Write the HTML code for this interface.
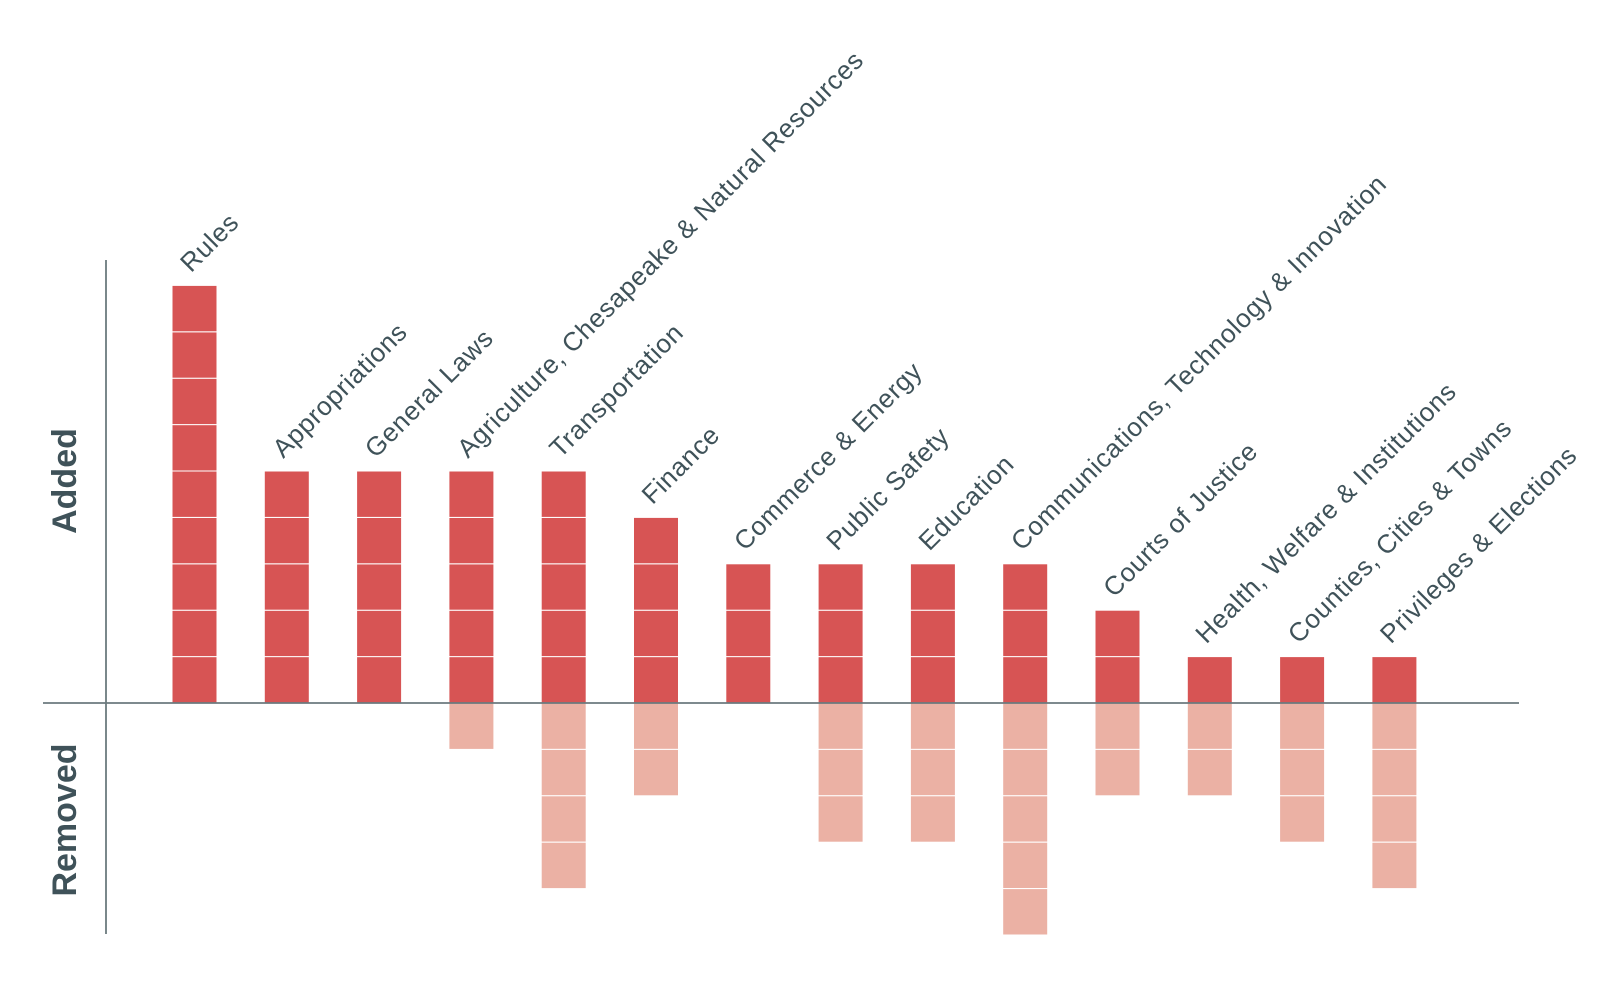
<!DOCTYPE html>
<html><head><style>body{margin:0;background:#fff}</style></head><body>
<svg width="1608" height="988" xmlns="http://www.w3.org/2000/svg" font-family="Liberation Sans, sans-serif">
<rect width="1608" height="988" fill="#fff"/>
<g id="bars"></g>
<line x1="106" y1="260" x2="106" y2="934" stroke="#6b7a7e" stroke-width="1.8"/>
<line x1="43" y1="703" x2="1519" y2="703" stroke="#6b7a7e" stroke-width="1.8"/>
<text transform="translate(76,481) rotate(-90)" text-anchor="middle" font-size="34" font-weight="bold" fill="#3f5259">Added</text>
<text transform="translate(76,820) rotate(-90)" text-anchor="middle" font-size="34" font-weight="bold" fill="#3f5259">Removed</text>
<g id="labels" font-size="26" letter-spacing="0.7" fill="#3f5259"></g>
</svg>
<script>
var d=[["Rules",9,0],["Appropriations",5,0],["General Laws",5,0],["Agriculture, Chesapeake & Natural Resources",5,1],["Transportation",5,4],["Finance",4,2],["Commerce & Energy",3,0],["Public Safety",3,3],["Education",3,3],["Communications, Technology & Innovation",3,5],["Courts of Justice",2,2],["Health, Welfare & Institutions",1,2],["Counties, Cities & Towns",1,3],["Privileges & Elections",1,4]];
var ns="http://www.w3.org/2000/svg",b=document.getElementById("bars"),l=document.getElementById("labels"),u=46.4,base=703;
d.forEach(function(r,i){var x=172+92.3*i;
for(var k=0;k<r[1];k++){var e=document.createElementNS(ns,"rect");e.setAttribute("x",x);e.setAttribute("y",base-(k+1)*u);e.setAttribute("width",45);e.setAttribute("height",u);e.setAttribute("fill","#d75454");e.setAttribute("stroke","#fff");e.setAttribute("stroke-width","1");b.appendChild(e);}
for(var k=0;k<r[2];k++){var e=document.createElementNS(ns,"rect");e.setAttribute("x",x);e.setAttribute("y",base+k*u);e.setAttribute("width",45);e.setAttribute("height",u);e.setAttribute("fill","#ebb1a4");e.setAttribute("stroke","#fff");e.setAttribute("stroke-width","1");b.appendChild(e);}
var t=document.createElementNS(ns,"text");var tx=x+19,ty=base-r[1]*u-12;t.setAttribute("transform","translate("+tx+","+ty+") rotate(-45)");t.textContent=r[0];l.appendChild(t);});
</script>
</body></html>
